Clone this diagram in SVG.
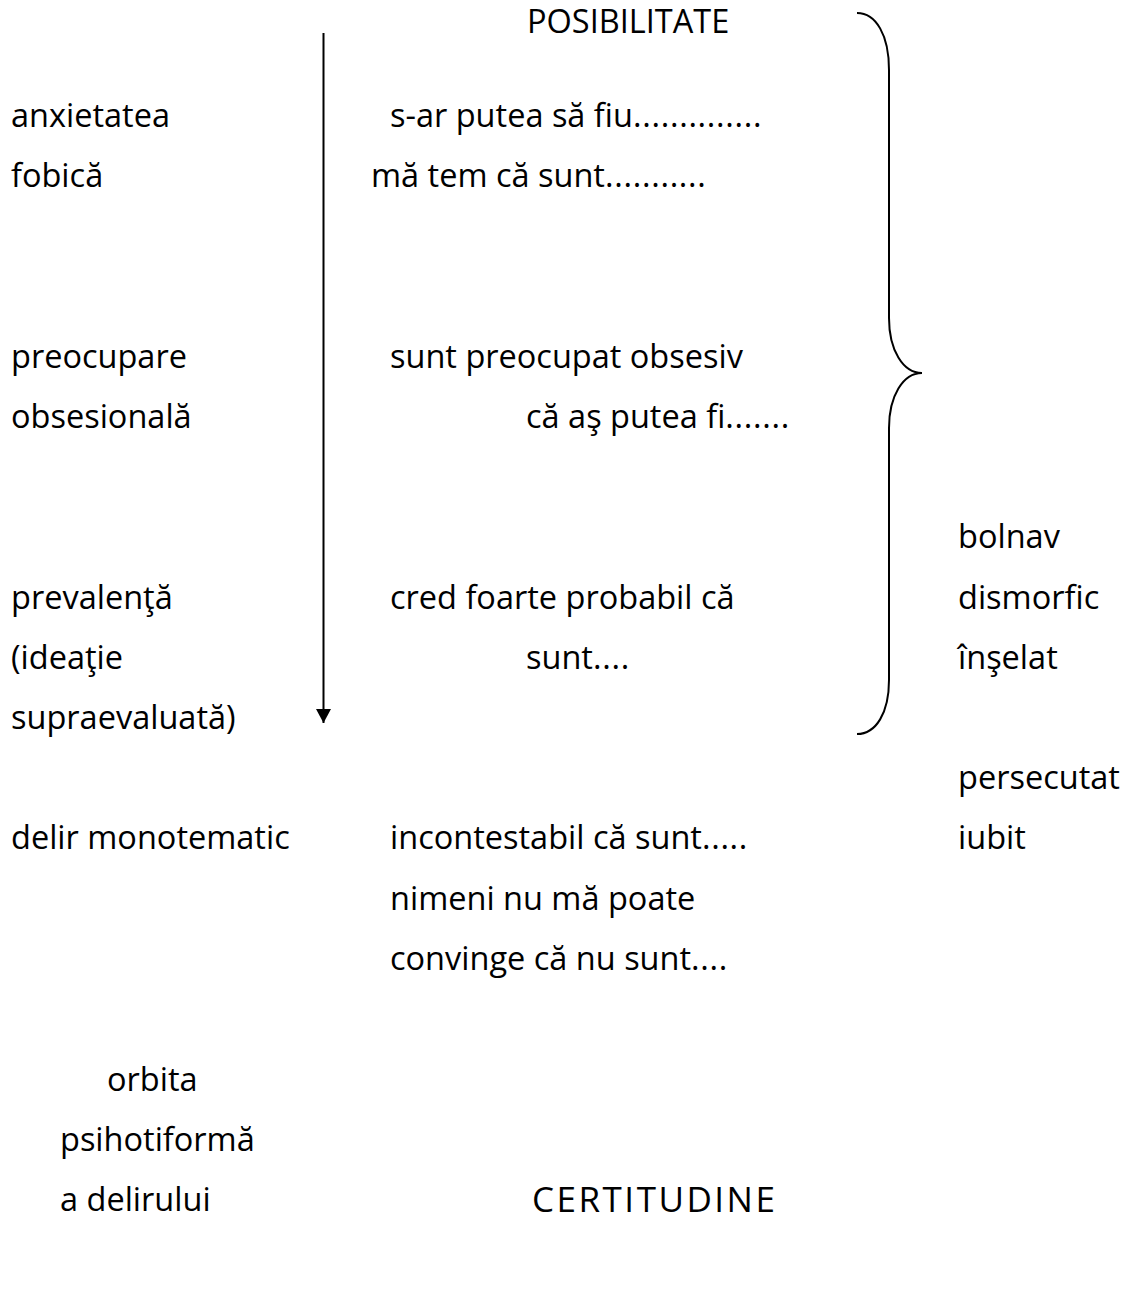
<svg xmlns="http://www.w3.org/2000/svg" width="1124" height="1293" viewBox="0 0 1124 1293">
  <defs>
    <style>
      .t { font-family: "Open Sans", "Lato", "Liberation Sans", sans-serif; font-size: 32.5px; fill: #000; }
      .dots { letter-spacing: 0.7px; }
      .ln { fill: none; stroke: #000; stroke-width: 2; }
    </style>
    <marker id="head" viewBox="0 0 14 15" refX="14" refY="7.5" markerWidth="14" markerHeight="15" markerUnits="userSpaceOnUse" orient="auto">
      <path d="M0,0 L14,7.5 L0,15 Z" fill="#000"/>
    </marker>
  </defs>
  <rect width="1124" height="1293" fill="#fff"/>

  <!-- scale labels -->
  <g id="posibilitate"><text class="t" x="527" y="33">POSIBILITATE</text></g>
  <g id="certitudine"><text class="t" x="532" y="1212" style="font-size:35px" letter-spacing="2.5">CERTITUDINE</text></g>

  <!-- left column: clinical forms -->
  <g id="anxietate-fobica">
    <text class="t" x="11" y="127">anxietatea</text>
    <text class="t" x="11" y="187">fobică</text>
  </g>
  <g id="preocupare-obsesionala">
    <text class="t" x="11" y="368">preocupare</text>
    <text class="t" x="11" y="428">obsesională</text>
  </g>
  <g id="prevalenta">
    <text class="t" x="11" y="609">prevalenţă</text>
    <text class="t" x="11" y="669">(ideaţie</text>
    <text class="t" x="11" y="729">supraevaluată)</text>
  </g>
  <g id="delir-monotematic">
    <text class="t" x="11" y="849">delir monotematic</text>
  </g>
  <g id="orbita-psihotiforma">
    <text class="t" x="107" y="1091">orbita</text>
    <text class="t" x="60" y="1151">psihotiformă</text>
    <text class="t" x="60" y="1211">a delirului</text>
  </g>

  <!-- middle column: statements -->
  <g id="enunt-posibilitate">
    <text class="t" x="390" y="127">s-ar putea să fiu<tspan class="dots">..............</tspan></text>
    <text class="t" x="371" y="187">mă tem că sunt<tspan class="dots">...........</tspan></text>
  </g>
  <g id="enunt-obsesiv">
    <text class="t" x="390" y="368">sunt preocupat obsesiv</text>
    <text class="t" x="526" y="428">că aş putea fi<tspan class="dots">.......</tspan></text>
  </g>
  <g id="enunt-probabil">
    <text class="t" x="390" y="609">cred foarte probabil că</text>
    <text class="t" x="526" y="669">sunt<tspan class="dots">....</tspan></text>
  </g>
  <g id="enunt-certitudine">
    <text class="t" x="390" y="849">incontestabil că sunt<tspan class="dots">.....</tspan></text>
    <text class="t" x="390" y="910">nimeni nu mă poate</text>
    <text class="t" x="390" y="970">convinge că nu sunt<tspan class="dots">....</tspan></text>
  </g>

  <!-- right column: themes -->
  <g id="teme">
    <text class="t" x="958" y="548">bolnav</text>
    <text class="t" x="958" y="609">dismorfic</text>
    <text class="t" x="958" y="669">înşelat</text>
    <text class="t" x="958" y="789">persecutat</text>
    <text class="t" x="958" y="849">iubit</text>
  </g>

  <!-- connectors: downward arrow and grouping brace -->
  <g id="connectors">
    <line class="ln" x1="323.5" y1="33" x2="323.5" y2="723" marker-end="url(#head)"/>
    <path class="ln" d="M857,13 C876,13 889,35 889,70 L889,318 C889,350 903,373 922,373 C903,373 889,396 889,428 L889,680 C889,713 876,734 857,734"/>
  </g>
</svg>
